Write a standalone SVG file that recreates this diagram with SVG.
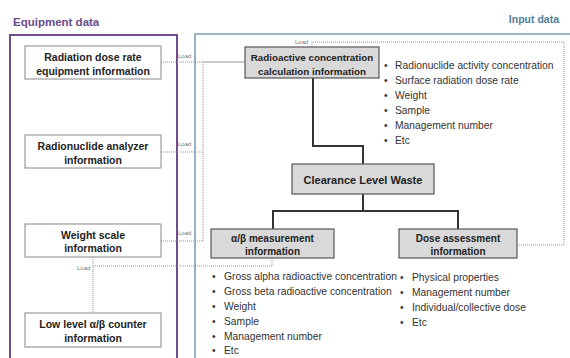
<svg xmlns="http://www.w3.org/2000/svg" width="570" height="358" viewBox="0 0 570 358">
<style>
text{font-family:"Liberation Sans",Arial,sans-serif}
.title{font-size:11.5px;font-weight:bold}
.eq{fill:#fff;stroke:#888;stroke-width:1}
.gb{fill:#d9d9d9;stroke:#555;stroke-width:1.2}
.bl{font-size:10.5px;font-weight:bold;fill:#222;text-anchor:middle}
.li{font-size:10.3px;fill:#333}
.load{font-size:6px;fill:#777}
.dot{fill:none;stroke:#999;stroke-width:1;stroke-dasharray:1 1}
.solid{fill:none;stroke:#333;stroke-width:2}
</style>
<rect width="570" height="358" fill="#fff"/>
<g id="frames">
<text x="13" y="26" class="title" fill="#6b4a8c">Equipment data</text>
<text x="559" y="23" class="title" fill="#4e7f99" text-anchor="end" style="font-size:10.5px">Input data</text>
<path d="M10,362 V35 H177 V362" fill="none" stroke="#6e4c8e" stroke-width="2"/>
<path d="M195,362 V34 H572" fill="none" stroke="#7c9fb5" stroke-width="1.6"/>
</g>
<g id="connectors">
<path class="dot" d="M161,62 H203 V241 H161"/>
<path class="dot" d="M161,152 H203"/>
<path d="M203,62 H245" fill="none" stroke="#999" stroke-width="1"/>
<path class="dot" d="M93,257 V313"/>
<path class="dot" d="M93,266 H272 V258"/>
<path class="dot" d="M312,47 V42 H564 V245 H517"/>
<path class="solid" d="M313,78 V146 H363 V164"/>
<path class="solid" d="M363,194 V211 M273,229 V211 H458 V229"/>
<text x="178" y="58" class="load">Load</text>
<text x="178" y="146" class="load">Load</text>
<text x="178" y="235" class="load">Load</text>
<text x="295" y="43.5" class="load">Load</text>
<text x="77" y="269.5" class="load">Load</text>
</g>
<g id="radiation-dose">
<rect x="25" y="46" width="136" height="33" class="eq"/>
<text x="93" y="61" class="bl">Radiation dose rate</text>
<text x="93" y="75" class="bl">equipment information</text>
</g>
<g id="radionuclide-analyzer">
<rect x="25" y="135" width="136" height="33" class="eq"/>
<text x="93" y="150" class="bl">Radionuclide analyzer</text>
<text x="93" y="164" class="bl">information</text>
</g>
<g id="weight-scale">
<rect x="25" y="224" width="136" height="33" class="eq"/>
<text x="93" y="239" class="bl">Weight scale</text>
<text x="93" y="252" class="bl">information</text>
</g>
<g id="low-level-counter">
<rect x="25" y="313" width="136" height="34" class="eq"/>
<text x="93" y="328" class="bl">Low level α/β counter</text>
<text x="93" y="342" class="bl">information</text>
</g>
<g id="radioactive-concentration">
<rect x="245" y="47" width="134" height="31" class="gb"/>
<text x="312" y="61" class="bl" style="font-size:9.8px">Radioactive concentration</text>
<text x="312" y="74.5" class="bl" style="font-size:9.8px">calculation information</text>
</g>
<g id="radioactive-list">
<text x="384" y="68.5" class="li">•</text><text x="395" y="68.5" class="li">Radionuclide activity concentration</text>
<text x="384" y="83.5" class="li">•</text><text x="395" y="83.5" class="li">Surface radiation dose rate</text>
<text x="384" y="98.5" class="li">•</text><text x="395" y="98.5" class="li">Weight</text>
<text x="384" y="113.5" class="li">•</text><text x="395" y="113.5" class="li">Sample</text>
<text x="384" y="128.5" class="li">•</text><text x="395" y="128.5" class="li">Management number</text>
<text x="384" y="143.5" class="li">•</text><text x="395" y="143.5" class="li">Etc</text>
</g>
<g id="clearance">
<rect x="292" y="164" width="142" height="30" class="gb"/>
<text x="363" y="184" class="bl" style="font-size:11px">Clearance Level Waste</text>
</g>
<g id="alpha-beta">
<rect x="211" y="229" width="123" height="29" class="gb"/>
<text x="272.5" y="242" class="bl" style="font-size:10px">α/β measurement</text>
<text x="272.5" y="255" class="bl" style="font-size:10px">information</text>
</g>
<g id="dose-assessment">
<rect x="399" y="229" width="118" height="29" class="gb"/>
<text x="458" y="242" class="bl" style="font-size:10px">Dose assessment</text>
<text x="458" y="255" class="bl" style="font-size:10px">information</text>
</g>
<g id="alpha-beta-list">
<text x="212" y="280" class="li">•</text><text x="224" y="280" class="li">Gross alpha radioactive concentration</text>
<text x="212" y="295" class="li">•</text><text x="224" y="295" class="li">Gross beta radioactive concentration</text>
<text x="212" y="310" class="li">•</text><text x="224" y="310" class="li">Weight</text>
<text x="212" y="325" class="li">•</text><text x="224" y="325" class="li">Sample</text>
<text x="212" y="340" class="li">•</text><text x="224" y="340" class="li">Management number</text>
<text x="212" y="354" class="li">•</text><text x="224" y="354" class="li">Etc</text>
</g>
<g id="dose-list">
<text x="400" y="280.5" class="li">•</text><text x="412" y="280.5" class="li">Physical properties</text>
<text x="400" y="295.5" class="li">•</text><text x="412" y="295.5" class="li">Management number</text>
<text x="400" y="310.5" class="li">•</text><text x="412" y="310.5" class="li">Individual/collective dose</text>
<text x="400" y="325.5" class="li">•</text><text x="412" y="325.5" class="li">Etc</text>
</g>
</svg>
